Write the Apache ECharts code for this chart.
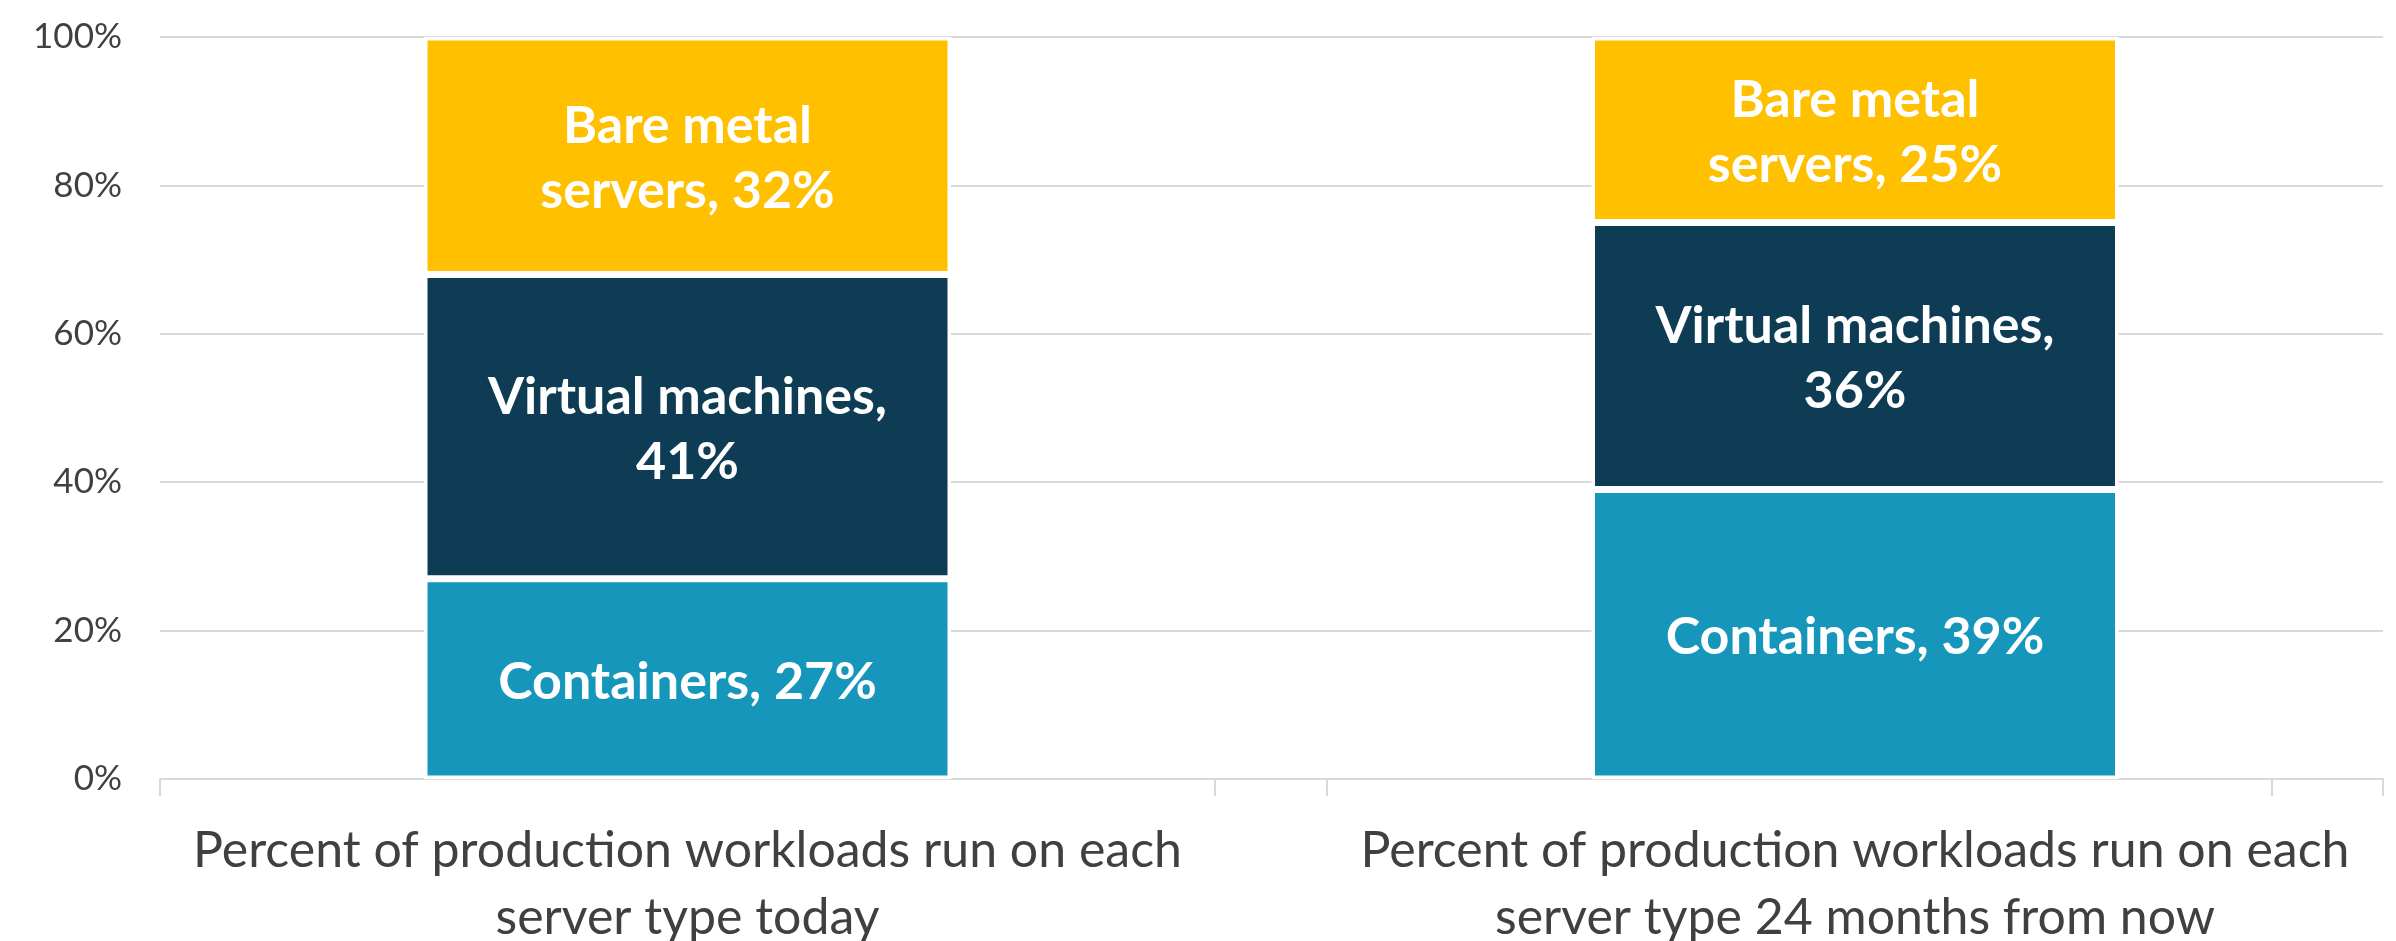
<!DOCTYPE html>
<html>
<head>
<meta charset="utf-8">
<script src="https://cdn.jsdelivr.net/npm/echarts@6/dist/echarts.min.js"></script>
<style>
html,body{margin:0;padding:0;background:#fff;}
#chart{width:2396px;height:941px;}
</style>
</head>
<body>
<div id="chart"></div>
<script>
// ---- data ----
const categories = [
  'Percent of production workloads run on each\nserver type today',
  'Percent of production workloads run on each\nserver type 24 months from now'
];
const segmentLabels = ['Containers, ', 'Virtual machines,\n', 'Bare metal\nservers, '];
const containers = [27, 39];
const virtualMachines = [41, 36];
const bareMetal = [32, 25];
const yTicks = [0, 20, 40, 60, 80, 100];

const segmentValues = [containers, virtualMachines, bareMetal];
const colors = ['#1696BB', '#0F3C55', '#FFC000'];

const FONT = 'Lato, "Source Sans Pro", "Open Sans", sans-serif';
const GRID_TOP = 37, GRID_BOTTOM = 162;
const lineStyle = {color: '#D9D9D9', width: 2};

const chart = echarts.init(document.getElementById('chart'));

const gridBase = {top: GRID_TOP, bottom: GRID_BOTTOM, containLabel: false, outerBoundsMode: 'none'};
const grids = [
  Object.assign({left: 160, right: 13}, gridBase),
  Object.assign({left: 160, width: 1055}, gridBase),
  Object.assign({left: 1327, width: 1056}, gridBase),
  Object.assign({left: 2272, width: 111}, gridBase)
];

const catLabel = {interval: 0, color: '#404040', fontFamily: FONT, fontSize: 50, lineHeight: 67, margin: 38};
const xAxes = [
  {type: 'category', gridIndex: 0, data: [''], axisLine: {show: true, lineStyle}, axisTick: {show: false}, axisLabel: {show: false}},
  {type: 'category', gridIndex: 1, data: [categories[0]], axisLine: {show: true, lineStyle},
    axisTick: {show: true, length: 17, lineStyle}, axisLabel: catLabel},
  {type: 'category', gridIndex: 2, data: [categories[1]], axisLine: {show: true, lineStyle},
    axisTick: {show: true, length: 17, lineStyle}, axisLabel: catLabel},
  {type: 'category', gridIndex: 3, data: [''], axisLine: {show: true, lineStyle},
    axisTick: {show: true, length: 17, lineStyle}, axisLabel: {show: false}}
];

const yAxes = [0,1,2,3].map(i => ({
  type: 'value', gridIndex: i, min: yTicks[0], max: yTicks[yTicks.length-1], interval: yTicks[1]-yTicks[0],
  axisLine: {show: false}, axisTick: {show: false},
  splitLine: {show: i === 0, lineStyle},
  axisLabel: i === 0 ? {show: true, formatter: '{value}%', color: '#404040', fontFamily: FONT, fontSize: 35, margin: 38} : {show: false}
}));

const series = [];
[1, 2].forEach((g, ci) => {
  segmentValues.forEach((vals, si) => {
    series.push({
      type: 'bar',
      xAxisIndex: g, yAxisIndex: g,
      stack: 'g' + g,
      barWidth: 527,
      data: [vals[ci]],
      itemStyle: {color: colors[si], borderColor: '#FFFFFF', borderWidth: 3.5},
      label: {
        show: true, position: 'inside',
        formatter: p => segmentLabels[si] + p.value + '%',
        color: '#FFFFFF', fontFamily: FONT, fontWeight: 'bold', fontSize: 52, lineHeight: 65,
        offset: [0, 3]
      },
      animation: false
    });
  });
});

chart.setOption({
  animation: false,
  grid: grids,
  xAxis: xAxes,
  yAxis: yAxes,
  series
});
</script>
</body>
</html>
